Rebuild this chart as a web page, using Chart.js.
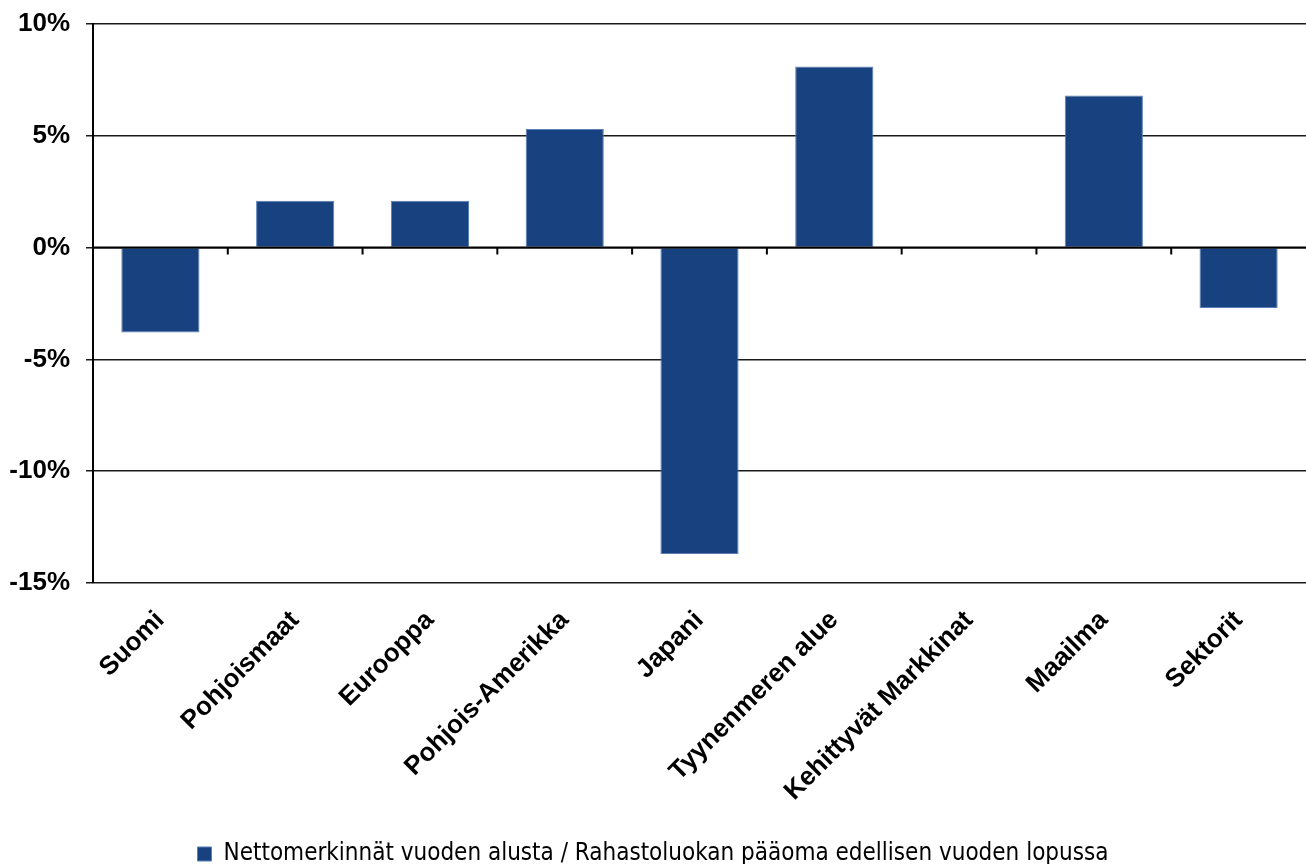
<!DOCTYPE html>
<html>
<head>
<meta charset="utf-8">
<script src="https://cdn.jsdelivr.net/npm/chart.js@4/dist/chart.umd.min.js"></script>
<style>
  html, body { margin: 0; padding: 0; background: #fff; }
  #wrap { width: 1306px; height: 864px; }
</style>
</head>
<body>
<div id="wrap"><canvas id="fundChart"></canvas></div>
<script>
// data
const categories = ['Suomi', 'Pohjoismaat', 'Eurooppa', 'Pohjois-Amerikka', 'Japani',
  'Tyynenmeren alue', 'Kehittyvät Markkinat', 'Maailma', 'Sektorit'];
const netSubscriptions = [-3.8, 2.1, 2.1, 5.3, -13.7, 8.1, 0, 6.8, -2.7];
const seriesName = 'Nettomerkinnät vuoden alusta / Rahastoluokan pääoma edellisen vuoden lopussa';
const yTicks = [-15, -10, -5, 0, 5, 10];

// small tick marks on the zero line between categories
const zeroTicks = {
  id: 'zeroTicks',
  afterDatasetsDraw(chart) {
    const { ctx, scales: { x, y } } = chart;
    const y0 = y.getPixelForValue(0);
    ctx.save();
    ctx.strokeStyle = '#000';
    ctx.lineWidth = 2;
    ctx.beginPath();
    ctx.moveTo(x.left, y0);
    ctx.lineTo(x.right, y0);
    for (let i = 1; i < categories.length; i++) {
      const px = (x.getPixelForValue(i - 1) + x.getPixelForValue(i)) / 2;
      ctx.moveTo(px, y0);
      ctx.lineTo(px, y0 + 7);
    }
    ctx.stroke();
    ctx.restore();
  }
};

const ctx = document.getElementById('fundChart').getContext('2d');
const fundChart = new Chart(ctx, {
  type: 'bar',
  data: {
    labels: categories,
    datasets: [{
      label: seriesName,
      data: netSubscriptions,
      backgroundColor: '#17427f',
      borderColor: '#5b7fb4',
      borderWidth: 1,
      categoryPercentage: 1,
      barPercentage: 0.58
    }]
  },
  options: {
    responsive: true,
    maintainAspectRatio: false,
    animation: false,
    layout: { padding: { top: 24, right: 0, left: 0, bottom: -12 } },
    plugins: {
      tooltip: { enabled: false },
      legend: {
        position: 'bottom',
        labels: {
          color: '#000',
          boxWidth: 14,
          boxHeight: 14,
          padding: 2,
          font: { family: '"Liberation Sans Narrow", "DejaVu Sans Condensed", sans-serif', size: 24 }
        }
      }
    },
    scales: {
      x: {
        grid: { display: false },
        border: { display: false },
        ticks: {
          color: '#000',
          maxRotation: 45,
          minRotation: 45,
          padding: 14,
          font: { family: '"Liberation Sans", Arial, sans-serif', size: 26, weight: 'bold' }
        },
        afterFit(scale) { scale.height = 257; }
      },
      y: {
        min: -15,
        max: 10,
        afterBuildTicks(scale) { scale.ticks = yTicks.map(v => ({ value: v })); },
        grid: { color: '#1a1a1a', lineWidth: 1.5, tickLength: 7 },
        border: { color: '#000', width: 2 },
        ticks: {
          color: '#000',
          padding: 16,
          font: { family: '"Liberation Sans", Arial, sans-serif', size: 26, weight: 'bold' },
          callback: v => v + '%'
        },
        afterFit(scale) {
          scale.width = 93;
          scale.paddingTop = 0;
          scale.paddingBottom = 0;
        }
      }
    }
  },
  plugins: [zeroTicks]
});
</script>
</body>
</html>
